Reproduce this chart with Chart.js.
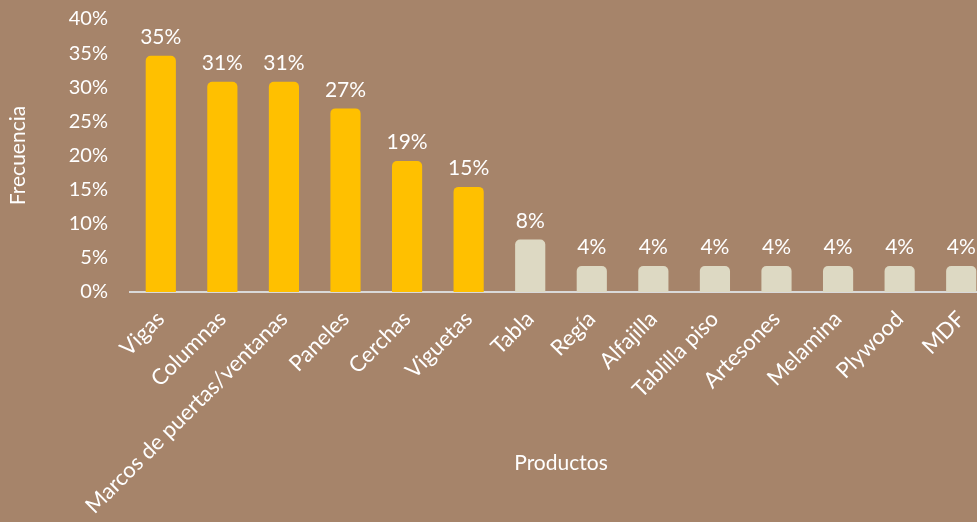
<!DOCTYPE html>
<html>
<head>
<meta charset="utf-8">
<script src="https://cdn.jsdelivr.net/npm/chart.js@4/dist/chart.umd.min.js"></script>
<style>
  html, body { margin: 0; padding: 0; background: #A6846A; }
  #wrap { width: 977px; height: 522px; position: relative; overflow: hidden; }
  #inner { width: 992px; height: 522px; position: relative; }
</style>
</head>
<body>
<div id="wrap"><div id="inner"><canvas id="chart"></canvas></div></div>
<script>
// Datos del gráfico
const productos = ['Vigas', 'Columnas', 'Marcos de puertas/ventanas', 'Paneles', 'Cerchas', 'Viguetas',
  'Tabla', 'Regía', 'Alfajilla', 'Tablilla piso', 'Artesones', 'Melamina', 'Plywood', 'MDF'];
const frecuencia = [0.346, 0.308, 0.308, 0.269, 0.192, 0.154, 0.077, 0.038, 0.038, 0.038, 0.038, 0.038, 0.038, 0.038];
const principales = 6; // primeros productos resaltados en amarillo
const yTicks = [0, 0.05, 0.10, 0.15, 0.20, 0.25, 0.30, 0.35, 0.40];

const FONT = 'Lato, "Open Sans", sans-serif';
const WHITE = '#FFFFFF';

// etiquetas de datos encima de cada barra
const barLabels = {
  id: 'barLabels',
  afterDatasetsDraw(chart) {
    const ctx = chart.ctx;
    const meta = chart.getDatasetMeta(0);
    ctx.save();
    ctx.fillStyle = WHITE;
    ctx.font = '21px ' + FONT;
    ctx.textAlign = 'center';
    ctx.textBaseline = 'bottom';
    meta.data.forEach((bar, i) => {
      const txt = Math.round(frecuencia[i] * 100) + '%';
      ctx.fillText(txt, bar.x, bar.y - 8);
    });
    ctx.restore();
  }
};

const ctx = document.getElementById('chart').getContext('2d');
new Chart(ctx, {
  type: 'bar',
  data: {
    labels: productos,
    datasets: [{
      data: frecuencia,
      backgroundColor: frecuencia.map((v, i) => i < principales ? '#FFC000' : '#DDD9C3'),
      borderRadius: { topLeft: 5, topRight: 5 },
      borderSkipped: 'bottom',
      barPercentage: 0.49,
      categoryPercentage: 1.0
    }]
  },
  options: {
    responsive: true,
    maintainAspectRatio: false,
    animation: false,
    layout: { padding: { top: 19, right: 0, left: 6, bottom: 0 } },
    plugins: {
      legend: { display: false },
      tooltip: { enabled: false }
    },
    scales: {
      x: {
        grid: { display: false, drawTicks: false },
        border: { display: true, color: '#D9D9D9', width: 2 },
        ticks: {
          color: WHITE,
          font: { family: FONT, size: 22 },
          minRotation: 45,
          maxRotation: 45,
          autoSkip: false,
          padding: 14
        },
        title: {
          display: true,
          text: 'Productos',
          color: WHITE,
          font: { family: FONT, size: 21 },
          padding: { top: 0, bottom: 46 }
        },
        afterFit(scale) {
          scale.height = 230;
          scale.paddingRight = 0;
          scale.paddingLeft = 0;
        }
      },
      y: {
        min: 0,
        max: 0.40,
        grid: { display: false, drawTicks: false },
        border: { display: false },
        afterBuildTicks(scale) { scale.ticks = yTicks.map(v => ({ value: v })); },
        ticks: {
          color: WHITE,
          font: { family: FONT, size: 20 },
          padding: 22,
          callback: v => Math.round(v * 100) + '%'
        },
        title: {
          display: true,
          text: 'Frecuencia',
          color: WHITE,
          font: { family: FONT, size: 21 },
          padding: { top: 0, bottom: 0 }
        },
        afterFit(scale) {
          scale.width = 124;
          scale.paddingTop = 0;
          scale.paddingBottom = 0;
        }
      }
    }
  },
  plugins: [barLabels]
});
</script>
</body>
</html>
